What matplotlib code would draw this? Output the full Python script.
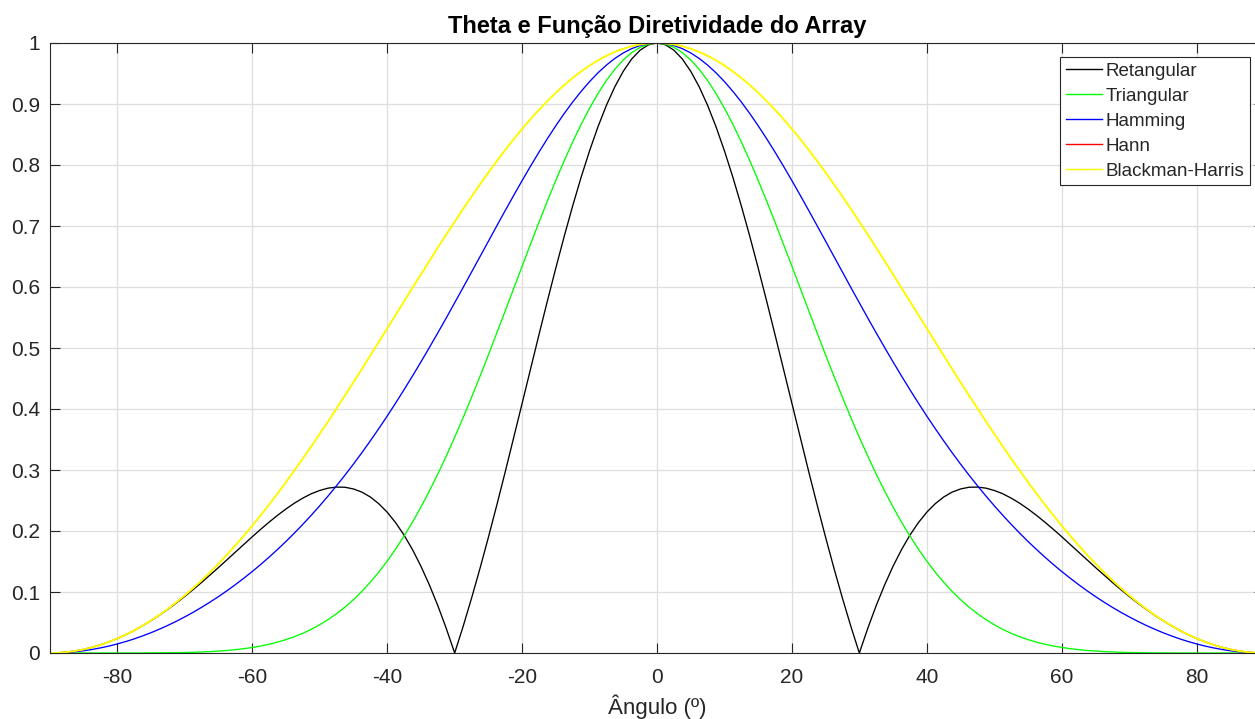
import matplotlib
matplotlib.use("Agg")
import matplotlib.pyplot as plt

angles = [-90, -88.75, -87.5, -86.25, -85, -83.75, -82.5, -81.25, -80, -78.75, -77.5, -76.25,
          -75, -73.75, -72.5, -71.25, -70, -68.75, -67.5, -66.25, -65, -63.75, -62.5, -61.25,
          -60, -58.75, -57.5, -56.25, -55, -53.75, -52.5, -51.25, -50, -48.75, -47.5, -46.25,
          -45, -43.75, -42.5, -41.25, -40, -38.75, -37.5, -36.25, -35, -33.75, -32.5, -31.25,
          -30, -28.75, -27.5, -26.25, -25, -23.75, -22.5, -21.25, -20, -18.75, -17.5, -16.25,
          -15, -13.75, -12.5, -11.25, -10, -8.75, -7.5, -6.25, -5, -3.75, -2.5, -1.25,
          0,
          1.25, 2.5, 3.75, 5, 6.25, 7.5, 8.75, 10, 11.25, 12.5, 13.75, 15,
          16.25, 17.5, 18.75, 20, 21.25, 22.5, 23.75, 25, 26.25, 27.5, 28.75, 30,
          31.25, 32.5, 33.75, 35, 36.25, 37.5, 38.75, 40, 41.25, 42.5, 43.75, 45,
          46.25, 47.5, 48.75, 50, 51.25, 52.5, 53.75, 55, 56.25, 57.5, 58.75, 60,
          61.25, 62.5, 63.75, 65, 66.25, 67.5, 68.75, 70, 71.25, 72.5, 73.75, 75,
          76.25, 77.5, 78.75, 80, 81.25, 82.5, 83.75, 85, 86.25, 87.5, 88.75, 90]

retangular = [0.0000, 0.0004, 0.0015, 0.0034, 0.0060, 0.0093, 0.0134, 0.0183, 0.0238, 0.0301, 0.0371, 0.0448,
              0.0532, 0.0622, 0.0719, 0.0821, 0.0929, 0.1042, 0.1159, 0.1280, 0.1403, 0.1529, 0.1655, 0.1782,
              0.1907, 0.2029, 0.2146, 0.2258, 0.2362, 0.2457, 0.2540, 0.2611, 0.2665, 0.2703, 0.2720, 0.2717,
              0.2689, 0.2637, 0.2557, 0.2447, 0.2308, 0.2136, 0.1932, 0.1694, 0.1422, 0.1116, 0.0777, 0.0404,
              0.0000, 0.0434, 0.0897, 0.1385, 0.1896, 0.2426, 0.2971, 0.3528, 0.4091, 0.4656, 0.5218, 0.5772,
              0.6312, 0.6834, 0.7331, 0.7799, 0.8232, 0.8627, 0.8979, 0.9283, 0.9537, 0.9738, 0.9883, 0.9971,
              1.0000,
              0.9971, 0.9883, 0.9738, 0.9537, 0.9283, 0.8979, 0.8627, 0.8232, 0.7799, 0.7331, 0.6834, 0.6312,
              0.5772, 0.5218, 0.4656, 0.4091, 0.3528, 0.2971, 0.2426, 0.1896, 0.1385, 0.0897, 0.0434, 0.0000,
              0.0404, 0.0777, 0.1116, 0.1422, 0.1694, 0.1932, 0.2136, 0.2308, 0.2447, 0.2557, 0.2637, 0.2689,
              0.2717, 0.2720, 0.2703, 0.2665, 0.2611, 0.2540, 0.2457, 0.2362, 0.2258, 0.2146, 0.2029, 0.1907,
              0.1782, 0.1655, 0.1529, 0.1403, 0.1280, 0.1159, 0.1042, 0.0929, 0.0821, 0.0719, 0.0622, 0.0532,
              0.0448, 0.0371, 0.0301, 0.0238, 0.0183, 0.0134, 0.0093, 0.0060, 0.0034, 0.0015, 0.0004, 0.0000]

triangular = [0.0000, 0.0000, 0.0000, 0.0000, 0.0000, 0.0000, 0.0000, 0.0000, 0.0000, 0.0000, 0.0001, 0.0001,
              0.0002, 0.0002, 0.0004, 0.0006, 0.0008, 0.0012, 0.0017, 0.0023, 0.0032, 0.0042, 0.0055, 0.0071,
              0.0091, 0.0115, 0.0144, 0.0179, 0.0220, 0.0268, 0.0324, 0.0389, 0.0464, 0.0549, 0.0645, 0.0754,
              0.0875, 0.1011, 0.1161, 0.1326, 0.1507, 0.1704, 0.1917, 0.2147, 0.2393, 0.2656, 0.2934, 0.3228,
              0.3536, 0.3857, 0.4190, 0.4534, 0.4886, 0.5245, 0.5609, 0.5975, 0.6341, 0.6704, 0.7062, 0.7411,
              0.7749, 0.8072, 0.8379, 0.8666, 0.8931, 0.9172, 0.9385, 0.9569, 0.9722, 0.9843, 0.9930, 0.9982,
              1.0000,
              0.9982, 0.9930, 0.9843, 0.9722, 0.9569, 0.9385, 0.9172, 0.8931, 0.8666, 0.8379, 0.8072, 0.7749,
              0.7411, 0.7062, 0.6704, 0.6341, 0.5975, 0.5609, 0.5245, 0.4886, 0.4534, 0.4190, 0.3857, 0.3536,
              0.3228, 0.2934, 0.2656, 0.2393, 0.2147, 0.1917, 0.1704, 0.1507, 0.1326, 0.1161, 0.1011, 0.0875,
              0.0754, 0.0645, 0.0549, 0.0464, 0.0389, 0.0324, 0.0268, 0.0220, 0.0179, 0.0144, 0.0115, 0.0091,
              0.0071, 0.0055, 0.0042, 0.0032, 0.0023, 0.0017, 0.0012, 0.0008, 0.0006, 0.0004, 0.0002, 0.0002,
              0.0001, 0.0001, 0.0000, 0.0000, 0.0000, 0.0000, 0.0000, 0.0000, 0.0000, 0.0000, 0.0000, 0.0000]

hamming = [0.0000, 0.0002, 0.0009, 0.0021, 0.0037, 0.0058, 0.0084, 0.0114, 0.0149, 0.0188, 0.0232, 0.0281,
           0.0334, 0.0392, 0.0454, 0.0521, 0.0593, 0.0669, 0.0750, 0.0836, 0.0926, 0.1021, 0.1122, 0.1227,
           0.1337, 0.1452, 0.1573, 0.1699, 0.1830, 0.1968, 0.2111, 0.2260, 0.2415, 0.2576, 0.2744, 0.2918,
           0.3098, 0.3285, 0.3479, 0.3679, 0.3885, 0.4098, 0.4317, 0.4542, 0.4772, 0.5008, 0.5248, 0.5492,
           0.5740, 0.5991, 0.6243, 0.6497, 0.6751, 0.7003, 0.7254, 0.7501, 0.7744, 0.7981, 0.8211, 0.8432,
           0.8644, 0.8845, 0.9033, 0.9207, 0.9367, 0.9511, 0.9638, 0.9747, 0.9837, 0.9908, 0.9959, 0.9990,
           1.0000,
           0.9990, 0.9959, 0.9908, 0.9837, 0.9747, 0.9638, 0.9511, 0.9367, 0.9207, 0.9033, 0.8845, 0.8644,
           0.8432, 0.8211, 0.7981, 0.7744, 0.7501, 0.7254, 0.7003, 0.6751, 0.6497, 0.6243, 0.5991, 0.5740,
           0.5492, 0.5248, 0.5008, 0.4772, 0.4542, 0.4317, 0.4098, 0.3885, 0.3679, 0.3479, 0.3285, 0.3098,
           0.2918, 0.2744, 0.2576, 0.2415, 0.2260, 0.2111, 0.1968, 0.1830, 0.1699, 0.1573, 0.1452, 0.1337,
           0.1227, 0.1122, 0.1021, 0.0926, 0.0836, 0.0750, 0.0669, 0.0593, 0.0521, 0.0454, 0.0392, 0.0334,
           0.0281, 0.0232, 0.0188, 0.0149, 0.0114, 0.0084, 0.0058, 0.0037, 0.0021, 0.0009, 0.0002, 0.0000]

hann = [0.0000, 0.0004, 0.0015, 0.0034, 0.0060, 0.0093, 0.0134, 0.0183, 0.0239, 0.0302, 0.0372, 0.0450,
        0.0535, 0.0627, 0.0726, 0.0833, 0.0946, 0.1066, 0.1193, 0.1326, 0.1466, 0.1613, 0.1766, 0.1924,
        0.2089, 0.2259, 0.2435, 0.2616, 0.2803, 0.2994, 0.3189, 0.3389, 0.3593, 0.3800, 0.4011, 0.4224,
        0.4440, 0.4658, 0.4878, 0.5099, 0.5321, 0.5544, 0.5766, 0.5988, 0.6208, 0.6428, 0.6645, 0.6860,
        0.7071, 0.7279, 0.7483, 0.7682, 0.7876, 0.8065, 0.8247, 0.8423, 0.8591, 0.8752, 0.8905, 0.9049,
        0.9185, 0.9311, 0.9428, 0.9534, 0.9630, 0.9716, 0.9791, 0.9854, 0.9906, 0.9947, 0.9977, 0.9994,
        1.0000,
        0.9994, 0.9977, 0.9947, 0.9906, 0.9854, 0.9791, 0.9716, 0.9630, 0.9534, 0.9428, 0.9311, 0.9185,
        0.9049, 0.8905, 0.8752, 0.8591, 0.8423, 0.8247, 0.8065, 0.7876, 0.7682, 0.7483, 0.7279, 0.7071,
        0.6860, 0.6645, 0.6428, 0.6208, 0.5988, 0.5766, 0.5544, 0.5321, 0.5099, 0.4878, 0.4658, 0.4440,
        0.4224, 0.4011, 0.3800, 0.3593, 0.3389, 0.3189, 0.2994, 0.2803, 0.2616, 0.2435, 0.2259, 0.2089,
        0.1924, 0.1766, 0.1613, 0.1466, 0.1326, 0.1193, 0.1066, 0.0946, 0.0833, 0.0726, 0.0627, 0.0535,
        0.0450, 0.0372, 0.0302, 0.0239, 0.0183, 0.0134, 0.0093, 0.0060, 0.0034, 0.0015, 0.0004, 0.0000]

blackman_harris = [0.0000, 0.0004, 0.0015, 0.0034, 0.0060, 0.0093, 0.0134, 0.0183, 0.0239, 0.0302, 0.0372, 0.0450,
                   0.0535, 0.0627, 0.0726, 0.0833, 0.0946, 0.1066, 0.1193, 0.1326, 0.1466, 0.1613, 0.1766, 0.1924,
                   0.2089, 0.2259, 0.2435, 0.2616, 0.2803, 0.2994, 0.3189, 0.3389, 0.3593, 0.3800, 0.4011, 0.4224,
                   0.4440, 0.4658, 0.4878, 0.5099, 0.5321, 0.5544, 0.5766, 0.5988, 0.6208, 0.6428, 0.6645, 0.6860,
                   0.7071, 0.7279, 0.7483, 0.7682, 0.7876, 0.8065, 0.8247, 0.8423, 0.8591, 0.8752, 0.8905, 0.9049,
                   0.9185, 0.9311, 0.9428, 0.9534, 0.9630, 0.9716, 0.9791, 0.9854, 0.9906, 0.9947, 0.9977, 0.9994,
                   1.0000,
                   0.9994, 0.9977, 0.9947, 0.9906, 0.9854, 0.9791, 0.9716, 0.9630, 0.9534, 0.9428, 0.9311, 0.9185,
                   0.9049, 0.8905, 0.8752, 0.8591, 0.8423, 0.8247, 0.8065, 0.7876, 0.7682, 0.7483, 0.7279, 0.7071,
                   0.6860, 0.6645, 0.6428, 0.6208, 0.5988, 0.5766, 0.5544, 0.5321, 0.5099, 0.4878, 0.4658, 0.4440,
                   0.4224, 0.4011, 0.3800, 0.3593, 0.3389, 0.3189, 0.2994, 0.2803, 0.2616, 0.2435, 0.2259, 0.2089,
                   0.1924, 0.1766, 0.1613, 0.1466, 0.1326, 0.1193, 0.1066, 0.0946, 0.0833, 0.0726, 0.0627, 0.0535,
                   0.0450, 0.0372, 0.0302, 0.0239, 0.0183, 0.0134, 0.0093, 0.0060, 0.0034, 0.0015, 0.0004, 0.0000]

series_names = ["Retangular", "Triangular", "Hamming", "Hann", "Blackman-Harris"]
series_colors = ["#000000", "#00FF00", "#0000FF", "#FF0000", "#FFFF00"]
series_widths = [0.95, 0.95, 0.95, 0.7, 1.35]

x_ticks = [-80, -60, -40, -20, 0, 20, 40, 60, 80]
y_ticks = [0, 0.1, 0.2, 0.3, 0.4, 0.5, 0.6, 0.7, 0.8, 0.9, 1]
y_tick_labels = ["0", "0.1", "0.2", "0.3", "0.4", "0.5", "0.6", "0.7", "0.8", "0.9", "1"]

plt.rcParams['font.family'] = ['Liberation Sans', 'DejaVu Sans']
axc = "#262626"

fig = plt.figure(figsize=(12.55, 7.19), dpi=100)
ax = fig.add_axes([50/1255, 66/719, 1214/1255, 610/719])

all_series = [retangular, triangular, hamming, hann, blackman_harris]
for vals, name, col, lw in zip(all_series, series_names, series_colors, series_widths):
    ax.plot(angles[:len(vals)], vals[:len(angles)], color=col, lw=lw, label=name)

ax.set_xlim(-90, 90)
ax.set_ylim(0, 1)
ax.set_xticks(x_ticks)
ax.set_xticklabels([str(t) for t in x_ticks])
ax.set_yticks(y_ticks)
ax.set_yticklabels(y_tick_labels)
ax.grid(True, color="#dedede", lw=0.9)
ax.set_axisbelow(True)
ax.tick_params(direction='in', length=7.5, width=0.8, colors=axc, labelsize=15,
               top=True, right=True, labelcolor=axc)
ax.tick_params(axis='x', pad=11)
ax.tick_params(axis='y', pad=7)
for sp in ax.spines.values():
    sp.set_color(axc)
    sp.set_linewidth(0.8)

ax.set_title("Theta e Função Diretividade do Array", fontsize=17, fontweight='bold',
             color='#000000', pad=7)
ax.set_xlabel("Ângulo (º)", fontsize=16, color=axc, labelpad=5)

leg = ax.legend(loc='upper right', bbox_to_anchor=((1250 - 50) / 1214, (719 - 57 - 66) / 610),
                fontsize=13.5, frameon=True, fancybox=False, framealpha=1,
                edgecolor=axc, handlelength=1.9, handletextpad=0.22, labelspacing=0.42,
                borderpad=0.3, borderaxespad=0)
leg.get_frame().set_linewidth(0.8)
for ln in leg.get_lines():
    ln.set_linewidth(1.0)
for t in leg.get_texts():
    t.set_color(axc)

fig.savefig('out.png', dpi=100)
